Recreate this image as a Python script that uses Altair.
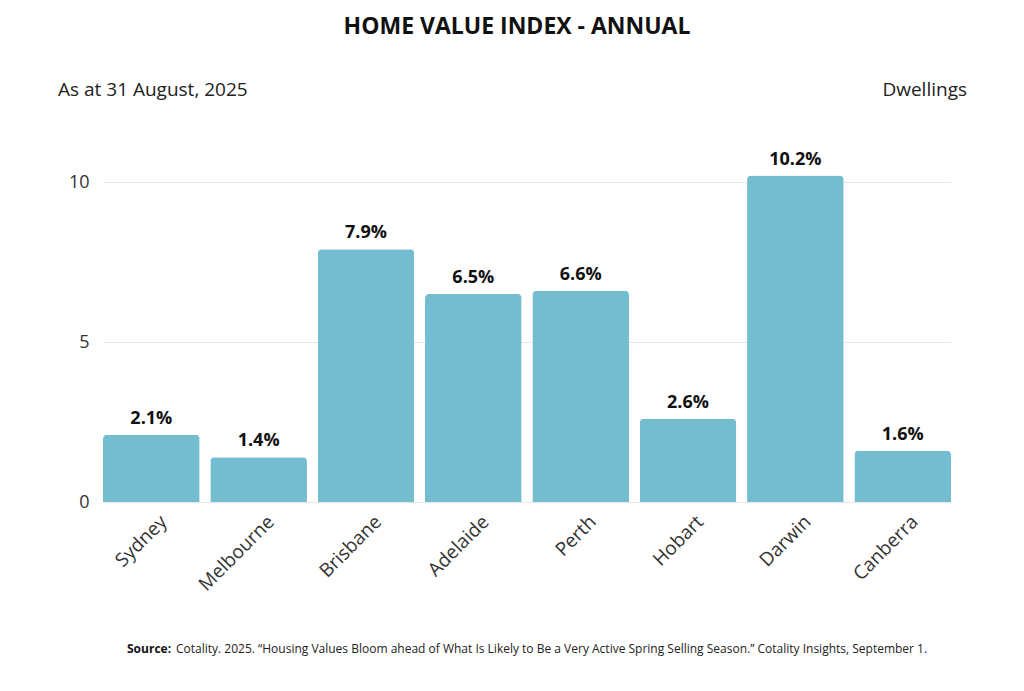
import altair as alt
import pandas as pd

cities = ["Sydney", "Melbourne", "Brisbane", "Adelaide", "Perth", "Hobart", "Darwin", "Canberra"]
values = [2.1, 1.4, 7.9, 6.5, 6.6, 2.6, 10.2, 1.6]
labels = ["2.1%", "1.4%", "7.9%", "6.5%", "6.6%", "2.6%", "10.2%", "1.6%"]
y_ticks = [0, 5, 10]

title_text = "HOME VALUE INDEX - ANNUAL"
left_note = "As at 31 August, 2025"
right_note = "Dwellings"
source_bold = "Source:"
source_text = "Cotality. 2025. \u201cHousing Values Bloom ahead of What Is Likely to Be a Very Active Spring Selling Season.\u201d Cotality Insights, September 1."

df = pd.DataFrame({"city": cities, "value": values, "label": labels})

FONT = "Open Sans"
W, H = 848, 336

x = alt.X("city:N", sort=cities, title=None,
          scale=alt.Scale(paddingInner=0.1, paddingOuter=0),
          axis=alt.Axis(labelAngle=-45, labelFontSize=19, labelColor="#333333",
                        labelFont=FONT, ticks=False, domain=False, labelPadding=10,
                        labelAlign="right", labelBaseline="top", labelOffset=6))
y = alt.Y("value:Q", title=None,
          scale=alt.Scale(domain=[0, 10.5], nice=False),
          axis=alt.Axis(values=y_ticks, labelFontSize=18, labelColor="#333333",
                        labelFont=FONT, ticks=False, domain=False, labelPadding=14,
                        grid=True, gridColor="#e6e6e6", gridWidth=1))

base = alt.Chart(df)
bars = base.mark_bar(color="#74BDD0", cornerRadiusTopLeft=4, cornerRadiusTopRight=4).encode(x=x, y=y)
text = base.mark_text(baseline="bottom", dy=-7, fontSize=18, fontWeight="bold",
                      font=FONT, color="#111111").encode(x=x, y=y, text="label:N")

ann = pd.DataFrame({"t": [0]})
title = alt.Chart(ann).mark_text(fontSize=23, fontWeight="bold", font=FONT, color="#111111",
                                 align="center", baseline="middle").encode(
    x=alt.value(414), y=alt.value(-139), text=alt.value(title_text))
lnote = alt.Chart(ann).mark_text(fontSize=19, font=FONT, color="#222222",
                                 align="left", baseline="middle").encode(
    x=alt.value(-45), y=alt.value(-76), text=alt.value(left_note))
rnote = alt.Chart(ann).mark_text(fontSize=19, font=FONT, color="#222222",
                                 align="right", baseline="middle").encode(
    x=alt.value(864), y=alt.value(-76), text=alt.value(right_note))
src_b = alt.Chart(ann).mark_text(fontSize=12, font=FONT, fontWeight="bold", color="#111111",
                                 align="left", baseline="middle").encode(
    x=alt.value(24), y=alt.value(483), text=alt.value(source_bold))
src_t = alt.Chart(ann).mark_text(fontSize=12, font=FONT, color="#222222",
                                 align="left", baseline="middle").encode(
    x=alt.value(73), y=alt.value(483), text=alt.value(source_text))

chart = alt.layer(bars, text, title, lnote, rnote, src_b, src_t).properties(
    width=W, height=H,
    background="white",
    autosize=alt.AutoSizeParams(type="none"),
    padding={"left": 95, "top": 158, "right": 65, "bottom": 181},
).configure_view(stroke=None, strokeWidth=0)

chart.save("out.html", embed_options={"renderer": "svg", "actions": False})
